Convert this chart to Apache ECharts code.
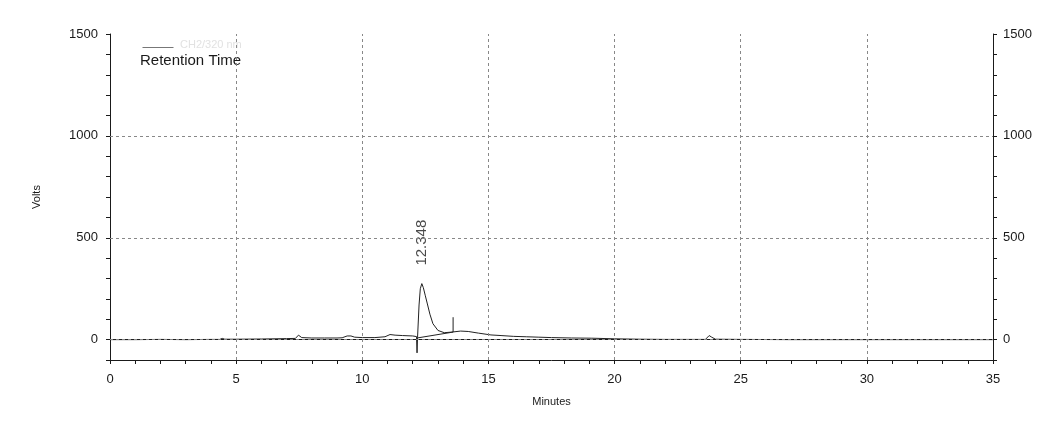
<!DOCTYPE html>
<html>
<head>
<meta charset="utf-8">
<script src="https://cdn.jsdelivr.net/npm/echarts@6/dist/echarts.min.js"></script>
<style>
  html, body { margin: 0; padding: 0; background: #fff; }
  #main { width: 1052px; height: 432px; }
</style>
</head>
<body>
<div id="main"></div>
<script>
// chromatogram trace, minutes vs volts
var traceMinutes = [0, 1, 2, 3, 4, 4.35, 4.45, 4.55, 5, 6, 7, 7.35, 7.47, 7.6, 8, 8.5, 9, 9.2, 9.4, 9.55, 9.7,
  10, 10.5, 10.9, 11.1, 11.3, 11.6, 12.0, 12.15, 12.17, 12.19, 12.25, 12.3, 12.36, 12.42, 12.5, 12.58, 12.68,
  12.8, 13.0, 13.25, 13.55, 13.9, 14.2, 14.6, 15.1, 15.5, 16.0, 16.5, 17.0, 17.5, 18.3, 19.1, 20, 21, 22, 23,
  23.6, 23.75, 23.85, 24, 25, 27, 30, 33, 35];
var traceVolts = [0, 0, 1, 0, 1, 1, 6, 2, 2, 3, 5, 6, 22, 10, 8, 8, 8, 9, 18, 18, 12,
  10, 10, 14, 25, 22, 20, 18, 15, -65, 10, 170, 250, 275, 255, 215, 175, 125,
  78, 45, 34, 37, 42, 40, 32, 23, 20, 16, 14, 12, 10, 8, 7, 4, 2, 1, 1,
  1, 20, 12, 2, 1, 0, 0, 0, 0];

// integration baseline under the main peak
var baselineMinutes = [12.17, 13.6];
var baselineVolts = [8, 37];

// peak end event mark
var eventMinutes = [13.6, 13.6];
var eventVolts = [37, 110];

var peakLabel = { minute: 12.348, volts: 275, text: '12.348' };

var yTicks = [0, 500, 1000, 1500];
var xGrid = [5, 10, 15, 20, 25, 30];
var yGrid = [0, 500, 1000];

function pairs(xs, ys) {
  return xs.map(function (x, i) { return [x, ys[i]]; });
}

var font = 'Liberation Sans, Arial, sans-serif';
var ink = '#1a1a1a';

var gridLines = xGrid.map(function (v) { return { xAxis: v }; })
  .concat(yGrid.map(function (v) { return { yAxis: v }; }));

var chart = echarts.init(document.getElementById('main'));
chart.setOption({
  backgroundColor: '#ffffff',
  animation: false,
  grid: { left: 110, right: 59, top: 34, bottom: 72 },
  xAxis: [{
    type: 'value', min: 0, max: 35, interval: 1,
    name: 'Minutes', nameLocation: 'middle', nameGap: 36,
    nameTextStyle: { fontFamily: font, fontSize: 11, color: ink },
    axisLine: { show: true, onZero: false, lineStyle: { color: ink, width: 1 } },
    axisTick: { show: true, length: 4, lineStyle: { color: ink } },
    axisLabel: {
      fontFamily: font, fontSize: 13, color: ink, margin: 13,
      formatter: function (v) { return v % 5 === 0 ? String(v) : ''; }
    },
    splitLine: { show: false }
  }, {
    type: 'value', min: 0, max: 35, position: 'top',
    axisLine: { show: true, lineStyle: { color: ink, width: 1 } },
    axisTick: { show: false }, axisLabel: { show: false }, splitLine: { show: false }
  }],
  yAxis: [{
    type: 'value', min: -100, max: 1500, interval: 100,
    name: 'Volts', nameLocation: 'middle', nameGap: 68, nameRotate: 90,
    nameTextStyle: { fontFamily: font, fontSize: 11, color: ink },
    axisLine: { show: true, onZero: false, lineStyle: { color: ink, width: 1 } },
    axisTick: { show: true, length: 4, lineStyle: { color: ink } },
    axisLabel: {
      fontFamily: font, fontSize: 13, color: ink, margin: 12,
      formatter: function (v) { return yTicks.indexOf(v) >= 0 ? String(v) : ''; }
    },
    splitLine: { show: false }
  }, {
    type: 'value', min: -100, max: 1500, interval: 100, position: 'right',
    axisLine: { show: true, onZero: false, lineStyle: { color: ink, width: 1 } },
    axisTick: { show: true, length: 4, lineStyle: { color: ink } },
    axisLabel: {
      fontFamily: font, fontSize: 13, color: ink, margin: 10,
      formatter: function (v) { return yTicks.indexOf(v) >= 0 ? String(v) : ''; }
    },
    splitLine: { show: false }
  }],
  graphic: [{
    type: 'line', left: 140, top: 45,
    shape: { x1: 0, y1: 0, x2: 31, y2: 0 },
    style: { stroke: '#777', lineWidth: 1 }
  }, {
    type: 'text', left: 180, top: 39,
    style: { text: 'CH2/320 nm', fill: '#e2e2e2', font: '11px ' + font }
  }, {
    type: 'text', left: 140, top: 53,
    style: { text: 'Retention Time', fill: ink, font: '15px ' + font }
  }],
  series: [{
    type: 'line', name: 'trace', data: pairs(traceMinutes, traceVolts),
    showSymbol: false, symbol: 'none',
    lineStyle: { color: '#222', width: 1 },
    markLine: {
      silent: true, symbol: 'none', label: { show: false },
      lineStyle: { color: '#888', width: 1, type: [3, 3] },
      data: gridLines
    },
    z: 3
  }, {
    type: 'line', name: 'baseline', data: pairs(baselineMinutes, baselineVolts),
    showSymbol: false, symbol: 'none',
    lineStyle: { color: '#222', width: 1 }, z: 3
  }, {
    type: 'line', name: 'event', data: pairs(eventMinutes, eventVolts),
    showSymbol: false, symbol: 'none',
    lineStyle: { color: '#222', width: 1 }, z: 3
  }, {
    type: 'scatter', name: 'peak label',
    data: [[peakLabel.minute, peakLabel.volts]],
    symbolSize: 0,
    label: {
      show: true, formatter: peakLabel.text, rotate: 90,
      position: 'top', distance: 18, align: 'left', verticalAlign: 'middle',
      fontFamily: font, fontSize: 15, color: ink
    },
    z: 4
  }]
});
</script>
</body>
</html>
